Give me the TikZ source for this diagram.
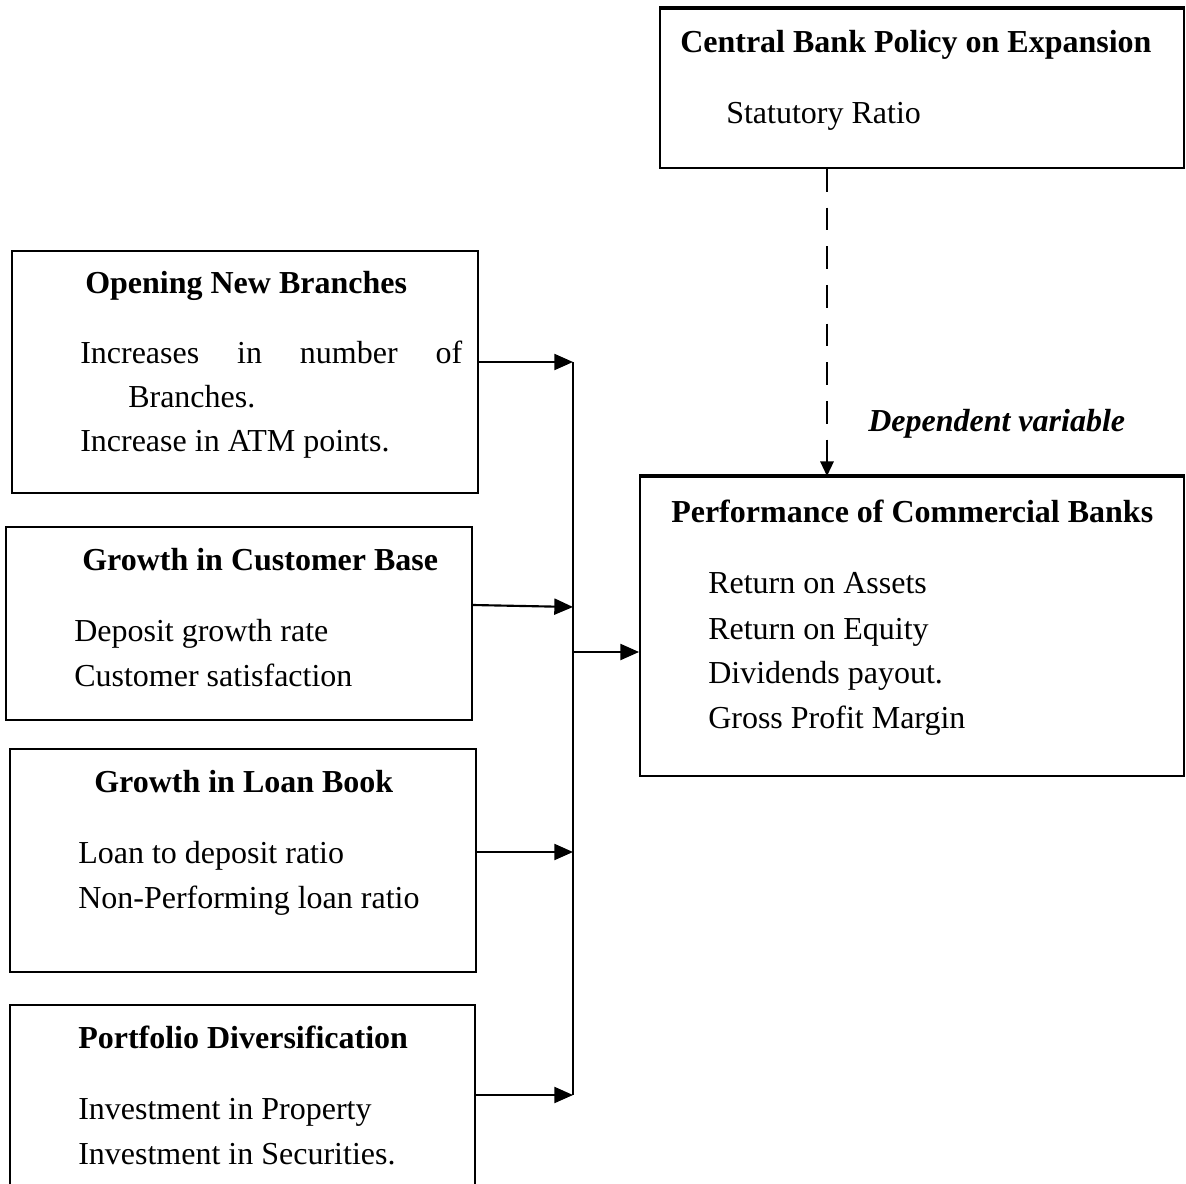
\documentclass[tikz,border=0pt]{standalone}
\usepackage{fontspec}
\setmainfont{Liberation Serif}
\usetikzlibrary{arrows.meta,fit}
\begin{document}
\begin{tikzpicture}[x=0.75pt,y=-0.75pt,
  box/.style={draw=black,line width=1.4pt,inner sep=0pt,rectangle},
  txt/.style={anchor=base west,inner sep=0pt,font=\fontsize{24}{28}\selectfont},
  head/.style={txt,font=\fontsize{24}{28}\selectfont\bfseries},
  arr/.style={line width=1.6pt,-{Triangle[length=14pt,width=12pt]}},
  dasharr/.style={line width=1.5pt,dash pattern=on 17pt off 12pt,-{Triangle[length=11pt,width=10pt]}}]
\useasboundingbox (0,0) rectangle (1186,1184);
\clip (0,0) rectangle (1186,1184);

% boxes
\node[box,fit={(660,9) (1184,168)}] (cb) {};
\node[box,fit={(640,477) (1184,776)}] (perf) {};
\node[box,fit={(12,251) (478,493)}] (open) {};
\node[box,fit={(6,527) (472,720)}] (cust) {};
\node[box,fit={(10,749) (476,972)}] (loan) {};
\node[box,fit={(10,1005) (475,1210)}] (port) {};
\draw[line width=2.6pt] (cb.north west) -- (cb.north east);
\draw[line width=2.6pt] (perf.north west) -- (perf.north east);

% central bank
\node[head] (cbh) at (680,53) {Central Bank Policy on Expansion};
\node[txt] (cb1) at (726,124) {Statutory Ratio};

% performance
\node[head] (pfh) at (671,522) {Performance of Commercial Banks};
\node[txt] (pf1) at (708,593) {Return on Assets};
\node[txt] (pf2) at (708,639) {Return on Equity};
\node[txt] (pf3) at (708,683) {Dividends payout.};
\node[txt] (pf4) at (708,728) {Gross Profit Margin};

% dependent variable
\node[txt,font=\fontsize{24}{28}\selectfont\bfseries\itshape] (dv) at (868,431) {Dependent variable};

% opening new branches
\node[head] (oph) at (85,293) {Opening New Branches};
\node[txt] (op1) at (80,363) {\makebox[286.5pt][s]{Increases in number of}};
\node[txt] (op2) at (128,407) {Branches.};
\node[txt] (op3) at (80,451) {Increase in ATM points.};

% customer base
\node[head] (cuh) at (82,570) {Growth in Customer Base};
\node[txt] (cu1) at (74,641) {Deposit growth rate};
\node[txt] (cu2) at (74,686) {Customer satisfaction};

% loan book
\node[head] (loh) at (94,792) {Growth in Loan Book};
\node[txt] (lo1) at (78,863) {Loan to deposit ratio};
\node[txt] (lo2) at (78,908) {Non-Performing loan ratio};

% portfolio
\node[head] (poh) at (78,1048) {Portfolio Diversification};
\node[txt] (po1) at (78,1119) {Investment in Property};
\node[txt] (po2) at (78,1164) {Investment in Securities.};

% connectors
\coordinate (j1) at (573,362);
\coordinate (j2) at (573,607);
\coordinate (j3) at (573,852);
\coordinate (j4) at (573,1095);
\coordinate (jp) at (573,652);
\coordinate (dx) at (827,0);
\draw[line width=1.6pt] (j1) -- (j4);
\draw[arr] (open.east |- j1) -- (j1);
\draw[arr] ([yshift=1.5pt]cust.east |- j2) -- (j2);
\draw[arr] (loan.east |- j3) -- (j3);
\draw[arr] (port.east |- j4) -- (j4);
\draw[arr] (jp) -- (perf.west |- jp);
\draw[dasharr] (cb.south -| dx) -- (perf.north -| dx);
\end{tikzpicture}
\end{document}
